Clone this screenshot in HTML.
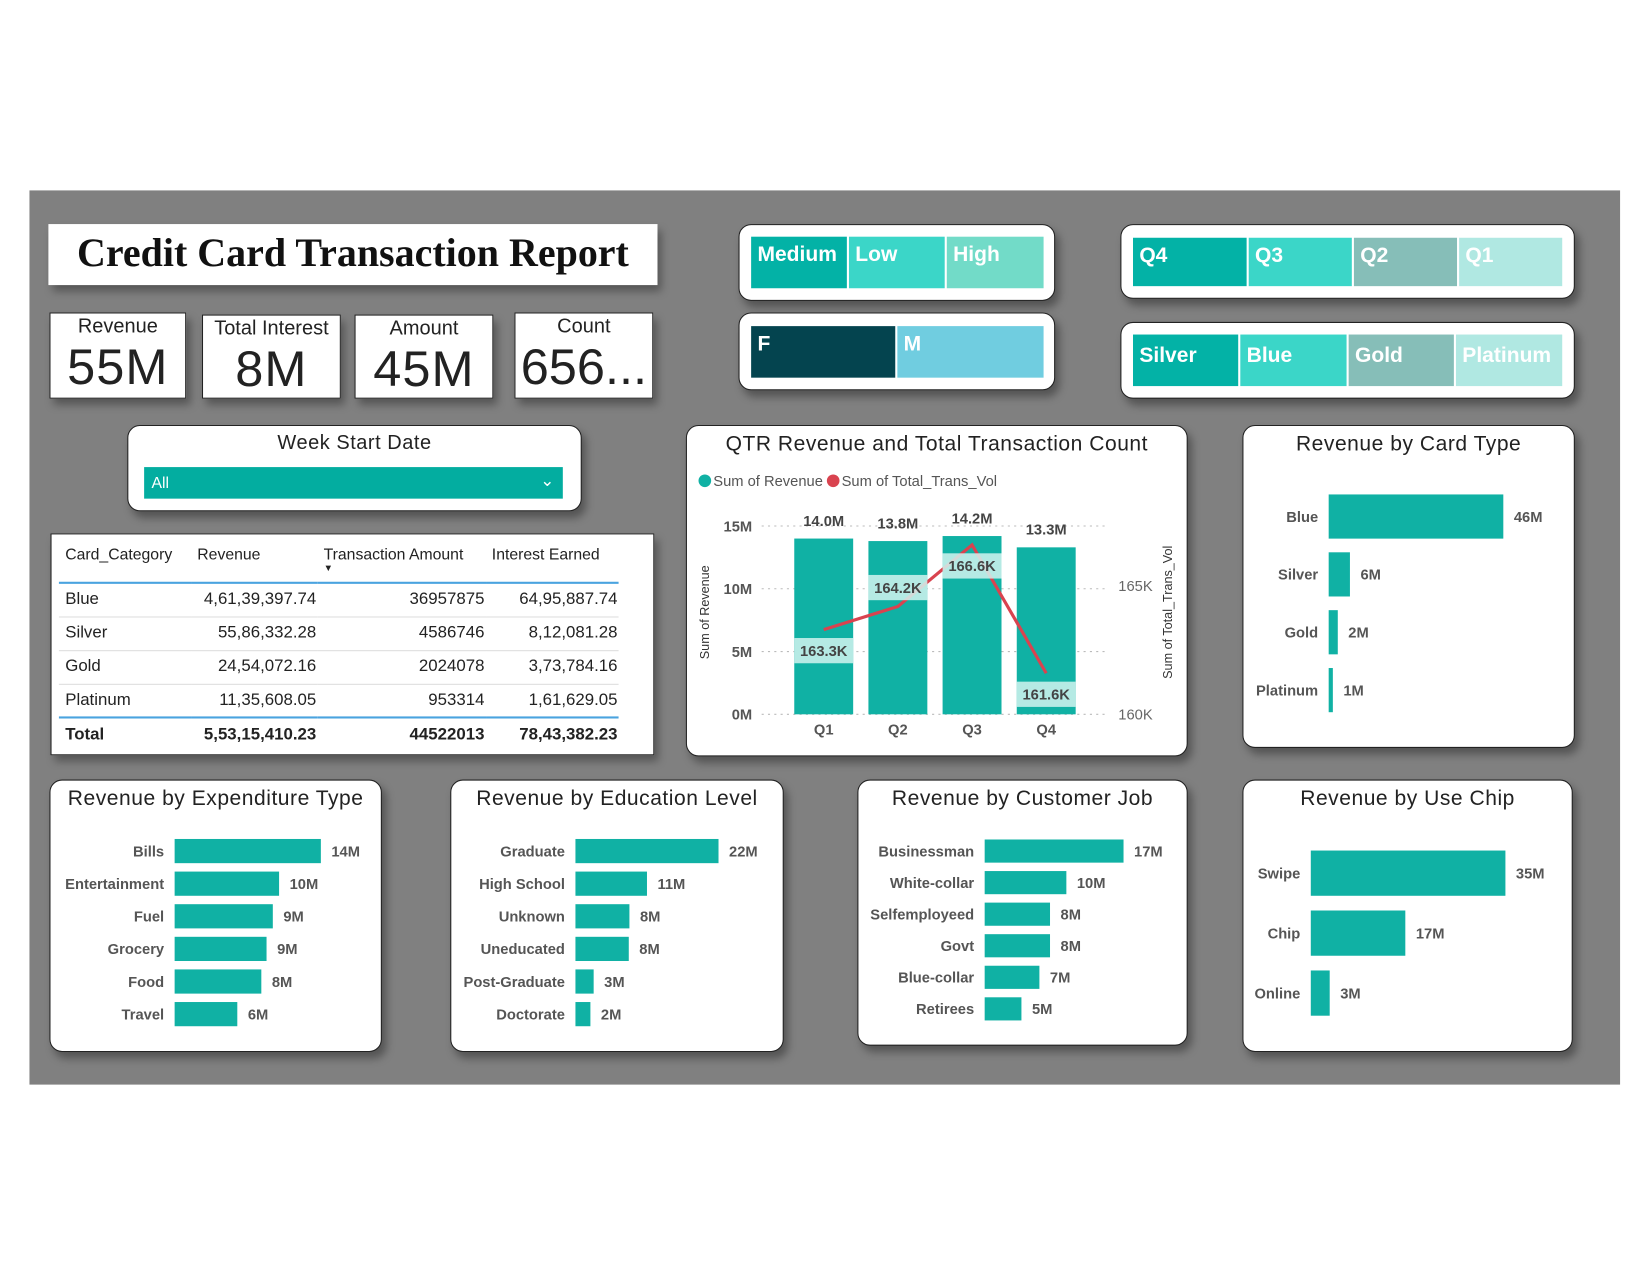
<!DOCTYPE html>
<html><head><meta charset="utf-8"><style>
body{margin:0;width:1650px;height:1275px;overflow:hidden;background:#fff;font-family:"Liberation Sans","DejaVu Sans",sans-serif}
#s{position:absolute;left:0;top:0;width:1560px;height:1205px;transform:scale(1.052);transform-origin:0 0}
.a{position:absolute;box-sizing:border-box}
.card{background:#fff;border:1.5px solid #222;border-radius:12px;box-shadow:4px 6px 8px rgba(0,0,0,.35)}
.kpi{background:#fff;border:1.5px solid #222;box-shadow:4px 6px 8px rgba(0,0,0,.35);text-align:center;color:#222;overflow:hidden}
.kpi .l{font-size:19px;margin-top:2px}
.kpi .v{font-size:48px;line-height:56px;letter-spacing:1px}
.tile{position:absolute;top:0;bottom:0;color:#fff;font-weight:bold;font-size:20px;padding:6px 6px;box-sizing:border-box}
.ct{position:absolute;left:0;right:0;text-align:center;font-size:20px;color:#222;letter-spacing:.5px}
table{border-collapse:collapse;font-size:16px;color:#222}
</style></head><body>
<div id="s">
<div class="a" style="left:28px;top:181px;width:1512px;height:850px;background:#808080"></div>
<div class="a" style="left:46px;top:213px;width:579px;height:58px;background:#fff;box-shadow:4px 6px 8px rgba(0,0,0,.35);font-family:'Liberation Serif',serif;font-weight:bold;font-size:38px;text-align:center;line-height:56px;color:#111">Credit Card Transaction Report</div>

<div class="a kpi" style="left:47px;top:297px;width:130px;height:82px"><div class="l">Revenue</div><div class="v">55M</div></div>
<div class="a kpi" style="left:192px;top:299px;width:132px;height:80px"><div class="l">Total Interest</div><div class="v">8M</div></div>
<div class="a kpi" style="left:337px;top:299px;width:132px;height:80px"><div class="l">Amount</div><div class="v">45M</div></div>
<div class="a kpi" style="left:489px;top:297px;width:132px;height:82px"><div class="l">Count</div><div class="v" style="letter-spacing:0">656...</div></div>

<div class="a card" style="left:121px;top:404px;width:432px;height:82px">
<div class="ct" style="top:6px;font-size:19px">Week Start Date</div>
<div class="a" style="left:15px;top:39px;width:398px;height:30px;background:#03ADA0;color:#fff;font-size:15px;padding:7px 7px">All<span style="position:absolute;right:8px;top:3px;font-size:16px">&#8964;</span></div>
</div>

<div class="a" style="left:48px;top:507px;width:574px;height:211px;background:#fff;border:1.5px solid #222;box-shadow:4px 6px 8px rgba(0,0,0,.35)">
<table style="position:absolute;left:7px;top:8px;width:532px">
<tr style="height:38px;border-bottom:2px solid #4aa3df;font-size:15px;vertical-align:top"><td style="padding:3px 6px">Card_Category</td><td style="padding:3px 6px">Revenue</td><td style="padding:3px 6px">Transaction Amount<div style="font-size:9px;line-height:8px">&#9660;</div></td><td style="padding:3px 6px">Interest Earned</td></tr>
<tr style="height:32px;border-bottom:1px solid #ddd"><td style="padding:0 6px">Blue</td><td align="right">4,61,39,397.74</td><td align="right">36957875</td><td align="right">64,95,887.74</td></tr>
<tr style="height:32px;border-bottom:1px solid #ddd"><td style="padding:0 6px">Silver</td><td align="right">55,86,332.28</td><td align="right">4586746</td><td align="right">8,12,081.28</td></tr>
<tr style="height:32px;border-bottom:1px solid #ddd"><td style="padding:0 6px">Gold</td><td align="right">24,54,072.16</td><td align="right">2024078</td><td align="right">3,73,784.16</td></tr>
<tr style="height:32px;border-bottom:2px solid #4aa3df"><td style="padding:0 6px">Platinum</td><td align="right">11,35,608.05</td><td align="right">953314</td><td align="right">1,61,629.05</td></tr>
<tr style="height:32px;font-weight:bold"><td style="padding:0 6px">Total</td><td align="right">5,53,15,410.23</td><td align="right">44522013</td><td align="right">78,43,382.23</td></tr>
</table></div>

<div class="a card" style="left:702px;top:213px;width:301px;height:73px">
<div class="a" style="left:11px;top:11px;width:278px;height:49px">
<div class="tile" style="left:0;width:91px;background:#03B2A6">Medium</div>
<div class="tile" style="left:93px;width:91px;background:#3BD6C8">Low</div>
<div class="tile" style="left:186px;width:92px;background:#72DBC8">High</div></div></div>
<div class="a card" style="left:702px;top:297px;width:301px;height:74px">
<div class="a" style="left:11px;top:12px;width:278px;height:49px">
<div class="tile" style="left:0;width:137px;background:#04444F">F</div>
<div class="tile" style="left:139px;width:139px;background:#70CDE0">M</div></div></div>
<div class="a card" style="left:1065px;top:213px;width:432px;height:71px">
<div class="a" style="left:11px;top:12px;width:408px;height:46px">
<div class="tile" style="left:0;width:108px;background:#03B2A6">Q4</div>
<div class="tile" style="left:110px;width:98px;background:#3BD6C8">Q3</div>
<div class="tile" style="left:210px;width:98px;background:#86BEB8">Q2</div>
<div class="tile" style="left:310px;width:98px;background:#B0E8E2">Q1</div></div></div>
<div class="a card" style="left:1065px;top:306px;width:432px;height:73px">
<div class="a" style="left:11px;top:11px;width:408px;height:49px">
<div class="tile" style="left:0;width:100px;background:#03B2A6;padding-top:9px">Silver</div>
<div class="tile" style="left:102px;width:101px;background:#3BD6C8;padding-top:9px">Blue</div>
<div class="tile" style="left:205px;width:100px;background:#86BEB8;padding-top:9px">Gold</div>
<div class="tile" style="left:307px;width:101px;background:#B0E8E2;padding-top:9px">Platinum</div></div></div>

<div class="a card" style="left:652px;top:404px;width:477px;height:315px">
<div class="ct" style="top:6px">QTR Revenue and Total Transaction Count</div></div>
<svg class="a" id="qtr" style="left:0;top:0" width="1560" height="1205"></svg>

<div class="a card" style="left:1181px;top:404px;width:316px;height:307px"><div class="ct" style="top:6px">Revenue by Card Type</div></div>
<div class="a card" style="left:47px;top:741px;width:316px;height:259px"><div class="ct" style="top:6px">Revenue by Expenditure Type</div></div>
<div class="a card" style="left:428px;top:741px;width:317px;height:259px"><div class="ct" style="top:6px">Revenue by Education Level</div></div>
<div class="a card" style="left:815px;top:741px;width:314px;height:253px"><div class="ct" style="top:6px">Revenue by Customer Job</div></div>
<div class="a card" style="left:1181px;top:741px;width:314px;height:259px"><div class="ct" style="top:6px">Revenue by Use Chip</div></div>
<svg class="a" id="bars" style="left:0;top:0" width="1560" height="1205"></svg>
</div>
<script>
const NS='http://www.w3.org/2000/svg';
const qtrCats=['Q1','Q2','Q3','Q4'];
const qtrRevenue=[14.0,13.8,14.2,13.3];
const qtrRevLabels=['14.0M','13.8M','14.2M','13.3M'];
const qtrVol=[163.3,164.2,166.6,161.6];
const qtrVolLabels=['163.3K','164.2K','166.6K','161.6K'];
const leftTicks=[0,5,10,15];
const rightTicks=[160,165];

const cardCats=['Blue','Silver','Gold','Platinum'];const cardVals=[46,5.6,2.4,1.1];
const chipCats=['Swipe','Chip','Online'];const chipVals=[35,17,3.4];
const expCats=['Bills','Entertainment','Fuel','Grocery','Food','Travel'];const expVals=[14,10,9.4,8.8,8.3,6];
const eduCats=['Graduate','High School','Unknown','Uneducated','Post-Graduate','Doctorate'];const eduVals=[22,11,8.3,8.2,2.8,2.3];
const jobCats=['Businessman','White-collar','Selfemployeed','Govt','Blue-collar','Retirees'];const jobVals=[17,10,8,8,6.7,4.5];

function mk(svg,tag,at,txt){const e=document.createElementNS(NS,tag);for(const k in at)e.setAttribute(k,at[k]);if(txt!==undefined)e.textContent=txt;svg.appendChild(e);return e;}
const F='Liberation Sans, DejaVu Sans, sans-serif';
const q=document.getElementById('qtr');
const yL=v=>679-v*(179/15);
const yR=v=>679-(v-160)*24.4;
const xQ=i=>783+i*70.5;
let e;
e=mk(q,'circle',{cx:670,cy:457,r:6,fill:'#10B1A4'});
e=mk(q,'text',{x:678,y:462,'font-size':14,fill:'#555','font-family':F},'Sum of Revenue');
e=mk(q,'circle',{cx:792,cy:457,r:6,fill:'#D9434F'});
e=mk(q,'text',{x:800,y:462,'font-size':14,fill:'#555','font-family':F},'Sum of Total_Trans_Vol');
leftTicks.forEach(t=>{
 e=mk(q,'line',{x1:724,x2:1050,y1:yL(t),y2:yL(t),stroke:'#bbb','stroke-dasharray':'2,4'});
 e=mk(q,'text',{x:715,y:yL(t)+5,'text-anchor':'end','font-size':14,'font-weight':'bold',fill:'#555','font-family':F},t+'M');
});
rightTicks.forEach(t=>{e=mk(q,'text',{x:1063,y:yR(t)+5,'font-size':14,fill:'#666','font-family':F},t+'K');});
e=mk(q,'text',{transform:'translate(674,582) rotate(-90)','text-anchor':'middle','font-size':12,fill:'#333','font-family':F},'Sum of Revenue');
e=mk(q,'text',{transform:'translate(1114,582) rotate(-90)','text-anchor':'middle','font-size':12,fill:'#333','font-family':F},'Sum of Total_Trans_Vol');
qtrCats.forEach((c,i)=>{
 e=mk(q,'rect',{x:xQ(i)-28,y:yL(qtrRevenue[i]),width:56,height:679-yL(qtrRevenue[i]),fill:'#10B1A4'});
 e=mk(q,'text',{x:xQ(i),y:yL(qtrRevenue[i])-12,'text-anchor':'middle','font-size':14,'font-weight':'bold',fill:'#444','font-family':F},qtrRevLabels[i]);
 e=mk(q,'text',{x:xQ(i),y:698,'text-anchor':'middle','font-size':14,'font-weight':'bold',fill:'#555','font-family':F},c);
});
const pts=qtrVol.map((v,i)=>xQ(i)+','+yR(v)).join(' ');
e=mk(q,'polyline',{points:pts,fill:'none',stroke:'#D9434F','stroke-width':3});
qtrVol.forEach((v,i)=>{const off=(i==1)?-18:20;const yy=yR(v)+off;
 e=mk(q,'rect',{x:xQ(i)-28,y:yy-12,width:56,height:24,fill:'rgba(210,245,240,0.85)'});
 e=mk(q,'text',{x:xQ(i),y:yy+5,'text-anchor':'middle','font-size':14,'font-weight':'bold',fill:'#444','font-family':F},qtrVolLabels[i]);
});
const b=document.getElementById('bars');
function hbar(name,cats,vals,x0,pxMax,vMax,y0,step,h){
 cats.forEach((c,i)=>{const y=y0+i*step;const w=vals[i]/vMax*pxMax;
  let r=mk(b,'rect',{x:x0,y:y-h/2,width:w,height:h,fill:'#10B1A4'});
  let t=mk(b,'text',{x:x0-10,y:y+5,'text-anchor':'end','font-size':14,'font-weight':'bold',fill:'#555','font-family':F},c);
  let v=mk(b,'text',{x:x0+w+10,y:y+5,'font-size':14,'font-weight':'bold',fill:'#555','font-family':F},Math.round(vals[i])+'M');
 });
}
hbar('card-type',cardCats,cardVals,1263,166,46,491,55,42);
hbar('use-chip',chipCats,chipVals,1246,185,35,830,57,43);
hbar('expenditure',expCats,expVals,166,139,14,809,31,23);
hbar('education',eduCats,eduVals,547,136,22,809,31,23);
hbar('job',jobCats,jobVals,936,132,17,809,30,22);
</script>
</body></html>
